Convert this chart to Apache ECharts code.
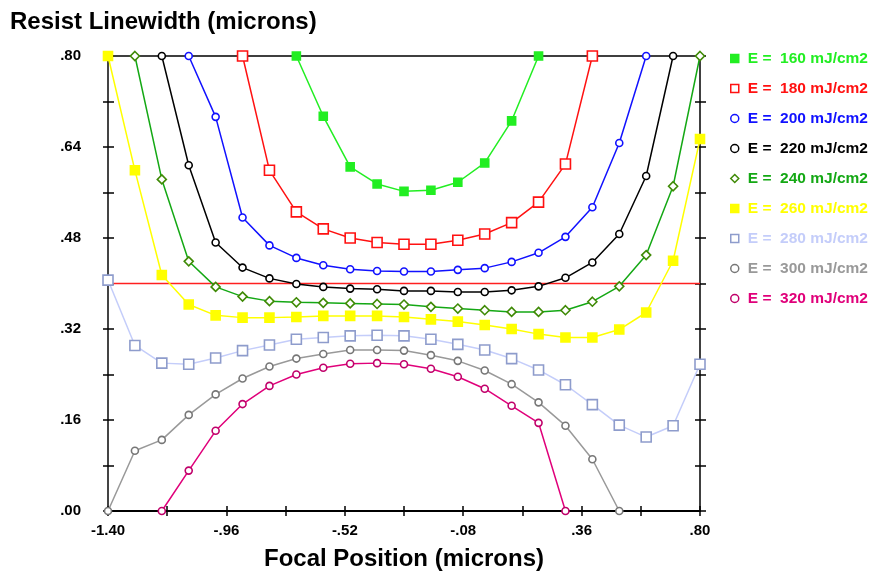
<!DOCTYPE html>
<html>
<head>
<meta charset="utf-8">
<script src="https://cdn.jsdelivr.net/npm/echarts@6/dist/echarts.min.js"></script>
<style>
  html, body { margin: 0; padding: 0; background: #fff; }
  #chart { width: 875px; height: 571px; }
</style>
</head>
<body>
<div id="chart"></div>
<script>
// Focal positions (microns) at which linewidth was sampled
const focus = [-1.4, -1.3, -1.2, -1.1, -1.0, -0.9, -0.8, -0.7, -0.6, -0.5, -0.4, -0.3,
               -0.2, -0.1, 0.0, 0.1, 0.2, 0.3, 0.4, 0.5, 0.6, 0.7, 0.8];

// Resist linewidth (microns) per exposure dose; null = outside plotted range
const e160 = [null, null, null, null, null, null, null, 0.80, 0.694, 0.605, 0.575, 0.562,
              0.564, 0.578, 0.612, 0.686, 0.80, null, null, null, null, null, null];
const e180 = [null, null, null, null, null, 0.80, 0.599, 0.526, 0.496, 0.480, 0.472, 0.469,
              0.469, 0.476, 0.487, 0.507, 0.543, 0.610, 0.80, null, null, null, null];
const e200 = [null, null, null, 0.80, 0.693, 0.516, 0.467, 0.445, 0.432, 0.425, 0.422, 0.421,
              0.421, 0.424, 0.427, 0.438, 0.454, 0.482, 0.534, 0.647, 0.80, null, null];
const e220 = [null, null, 0.80, 0.608, 0.472, 0.428, 0.409, 0.399, 0.394, 0.391, 0.390, 0.387,
              0.387, 0.385, 0.385, 0.388, 0.395, 0.410, 0.437, 0.487, 0.589, 0.80, null];
const e240 = [null, 0.80, 0.583, 0.439, 0.394, 0.377, 0.369, 0.367, 0.366, 0.365, 0.364, 0.363,
              0.359, 0.356, 0.353, 0.350, 0.350, 0.353, 0.368, 0.395, 0.450, 0.571, 0.80];
const e260 = [0.80, 0.599, 0.415, 0.363, 0.344, 0.340, 0.340, 0.341, 0.343, 0.343, 0.343, 0.341,
              0.337, 0.333, 0.327, 0.320, 0.311, 0.305, 0.305, 0.319, 0.349, 0.440, 0.654];
const e280 = [0.406, 0.291, 0.260, 0.258, 0.269, 0.282, 0.292, 0.302, 0.305, 0.308, 0.309, 0.308,
              0.302, 0.293, 0.283, 0.268, 0.248, 0.222, 0.187, 0.151, 0.130, 0.150, 0.258];
const e300 = [0.000, 0.106, 0.125, 0.169, 0.205, 0.233, 0.254, 0.268, 0.276, 0.283, 0.283, 0.282,
              0.274, 0.264, 0.247, 0.223, 0.191, 0.150, 0.091, 0.000, null, null, null];
const e320 = [null, null, 0.000, 0.071, 0.141, 0.188, 0.220, 0.240, 0.252, 0.259, 0.260, 0.258,
              0.250, 0.236, 0.215, 0.185, 0.155, 0.000, null, null, null, null, null];

// Target linewidth
const targetWidth = 0.40;

// Axis ticks and labels
const xTicks = [-1.40, -1.18, -0.96, -0.74, -0.52, -0.30, -0.08, 0.14, 0.36, 0.58, 0.80];
const xLabels = [-1.40, -0.96, -0.52, -0.08, 0.36, 0.80];
const yTicks = [0, 0.08, 0.16, 0.24, 0.32, 0.40, 0.48, 0.56, 0.64, 0.72, 0.80];
const yLabels = [0, 0.16, 0.32, 0.48, 0.64, 0.80];

const seriesNames = ['E =  160 mJ/cm2', 'E =  180 mJ/cm2', 'E =  200 mJ/cm2', 'E =  220 mJ/cm2',
                     'E =  240 mJ/cm2', 'E =  260 mJ/cm2', 'E =  280 mJ/cm2', 'E =  300 mJ/cm2',
                     'E =  320 mJ/cm2'];
const seriesValues = [e160, e180, e200, e220, e240, e260, e280, e300, e320];

// Per-dose drawing style
const styles = [
  { line: '#22ee22', text: '#22ee22', symbol: 'rect', size: 8, fill: '#22ee22', border: '#22ee22' },
  { line: '#ff1111', text: '#ff1111', symbol: 'rect', size: 10, fill: '#ffffff', border: '#ff1111' },
  { line: '#1111ff', text: '#1111ff', symbol: 'circle', size: 7, fill: '#ffffff', border: '#1111ff' },
  { line: '#000000', text: '#000000', symbol: 'circle', size: 7, fill: '#ffffff', border: '#000000' },
  { line: '#14a814', text: '#14a814', symbol: 'diamond', size: 9, fill: '#ffffff', border: '#3f8a06' },
  { line: '#ffff00', text: '#ffff00', symbol: 'rect', size: 9, fill: '#ffff00', border: '#ffff00' },
  { line: '#c4cdfa', text: '#c4cdfa', symbol: 'rect', size: 10, fill: '#ffffff', border: '#8e9ccc' },
  { line: '#999999', text: '#999999', symbol: 'circle', size: 7, fill: '#ffffff', border: '#777777' },
  { line: '#e0007a', text: '#e0007a', symbol: 'circle', size: 7, fill: '#ffffff', border: '#c0006a' }
];

const FONT = '"Liberation Sans", Arial, sans-serif';
const fmt = v => {
  const s = Number(v).toFixed(2);
  return s.replace(/^(-?)0\./, '$1.');
};

const series = seriesNames.map((name, k) => {
  const st = styles[k];
  return {
    name: name,
    type: 'line',
    xAxisIndex: 0,
    yAxisIndex: 0,
    data: focus.map((x, i) => [x, seriesValues[k][i]]),
    connectNulls: false,
    clip: false,
    z: 3,
    symbol: st.symbol,
    symbolSize: st.size,
    showAllSymbol: true,
    lineStyle: { color: st.line, width: 1.5 },
    itemStyle: { color: st.fill, borderColor: st.border, borderWidth: 1.6 },
    emphasis: { disabled: true },
    animation: false
  };
});

// Target linewidth reference line
series.push({
  name: 'target',
  type: 'line',
  xAxisIndex: 0,
  yAxisIndex: 0,
  data: [[focus[0], targetWidth], [focus[focus.length - 1], targetWidth]],
  symbol: 'none',
  z: 2,
  lineStyle: { color: '#ff2020', width: 1.5 },
  animation: false
});

const legendData = seriesNames.map((name, k) => ({
  name: name,
  icon: styles[k].symbol,
  itemStyle: { color: styles[k].fill, borderColor: styles[k].border, borderWidth: 1.5 },
  textStyle: { color: styles[k].text }
}));

const xBase = { type: 'value', min: -1.4, max: 0.8, splitLine: { show: false } };
const yBase = { type: 'value', min: 0, max: 0.8, splitLine: { show: false } };
const tickStyle = { color: '#000', width: 1.5 };

const option = {
  backgroundColor: '#ffffff',
  animation: false,
  title: {
    text: 'Resist Linewidth (microns)',
    left: 5, top: 5,
    textStyle: { fontFamily: FONT, fontWeight: 'bold', fontSize: 24, color: '#000' }
  },
  legend: {
    orient: 'vertical',
    left: 725, top: 45,
    itemWidth: 8, itemHeight: 8,
    itemGap: 13,
    selectedMode: false,
    lineStyle: { opacity: 0 },
    textStyle: { fontFamily: FONT, fontWeight: 'bold', fontSize: 15.5, lineHeight: 17, padding: [0, 0, 0, 4] },
    data: legendData
  },
  grid: { left: 108, right: 175, top: 56, bottom: 60, containLabel: false, outerBoundsMode: 'none' },
  xAxis: [
    Object.assign({}, xBase, {
      position: 'bottom',
      name: 'Focal Position (microns)',
      nameLocation: 'middle',
      nameGap: 36,
      nameTextStyle: { fontFamily: FONT, fontWeight: 'bold', fontSize: 24, color: '#000' },
      axisLine: { show: true, onZero: false, lineStyle: { color: '#000', width: 2 } },
      axisTick: { show: true, inside: false, length: 5, customValues: xTicks, lineStyle: tickStyle },
      axisLabel: { show: true, customValues: xLabels, formatter: fmt, margin: 12,
                   fontFamily: FONT, fontWeight: 'bold', fontSize: 15, color: '#000' }
    }),
    Object.assign({}, xBase, {
      position: 'bottom',
      axisLine: { show: false, onZero: false },
      axisTick: { show: true, inside: true, length: 5, customValues: xTicks, lineStyle: tickStyle },
      axisLabel: { show: false }
    }),
    Object.assign({}, xBase, {
      position: 'top',
      axisLine: { show: true, onZero: false, lineStyle: { color: '#000', width: 1.5 } },
      axisTick: { show: false },
      axisLabel: { show: false }
    })
  ],
  yAxis: [
    Object.assign({}, yBase, {
      position: 'left',
      axisLine: { show: true, onZero: false, lineStyle: { color: '#444', width: 2 } },
      axisTick: { show: true, inside: false, length: 5, customValues: yTicks, lineStyle: tickStyle },
      axisLabel: { show: true, customValues: yLabels, formatter: fmt, margin: 27,
                   fontFamily: FONT, fontWeight: 'bold', fontSize: 15, color: '#000' }
    }),
    Object.assign({}, yBase, {
      position: 'left',
      axisLine: { show: false, onZero: false },
      axisTick: { show: true, inside: true, length: 6, customValues: yTicks, lineStyle: tickStyle },
      axisLabel: { show: false }
    }),
    Object.assign({}, yBase, {
      position: 'right',
      axisLine: { show: true, onZero: false, lineStyle: { color: '#000', width: 1.5 } },
      axisTick: { show: true, inside: false, length: 6, customValues: yTicks, lineStyle: tickStyle },
      axisLabel: { show: false }
    }),
    Object.assign({}, yBase, {
      position: 'right',
      axisLine: { show: false, onZero: false },
      axisTick: { show: true, inside: true, length: 5, customValues: yTicks, lineStyle: tickStyle },
      axisLabel: { show: false }
    })
  ],
  series: series
};

const chart = echarts.init(document.getElementById('chart'), null, { renderer: 'canvas' });
chart.setOption(option);
</script>
</body>
</html>
